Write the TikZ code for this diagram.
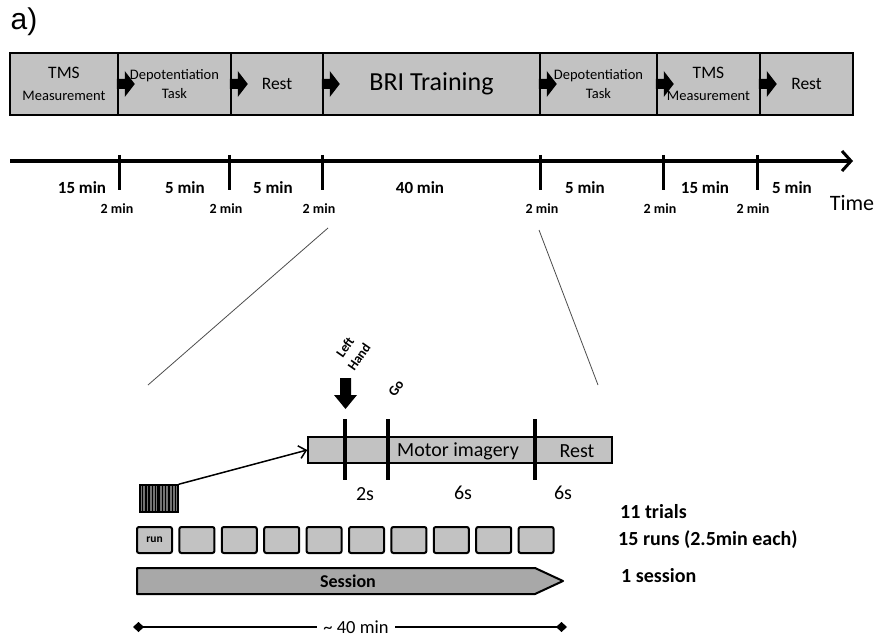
\documentclass[tikz,border=0pt]{standalone}
\usepackage{fontspec}
\setmainfont{Carlito}
\newfontfamily\arialf{Liberation Sans}
\usetikzlibrary{arrows.meta}
\definecolor{boxgray}{HTML}{C2C2C2}
\definecolor{sessgray}{HTML}{A8A8A8}
\newcommand{\fs}[2]{\fontsize{#1}{#2}\selectfont}
\tikzset{
  topbox/.style={draw, line width=2.5pt, fill=boxgray, minimum height=62pt, inner sep=0pt, align=center},
  tmsbox/.style={topbox, font=\fs{14.5}{22}},
  depbox/.style={topbox, font=\fs{14.5}{19}},
  restbox/.style={topbox, font=\fs{17.5}{21}},
  blockarrow/.style={fill=black},
  tick/.style={line width=3pt},
  durlbl/.style={font=\bfseries\fontsize{17}{20}\selectfont, inner sep=0pt},
  gaplbl/.style={font=\bfseries\fontsize{14}{16}\selectfont, inner sep=0pt},
  zoomline/.style={line width=0.8pt, draw=black!70},
  runbox/.style={draw, line width=2pt, fill=boxgray, rounded corners=2pt, minimum width=35pt, minimum height=26pt, inner sep=0pt},
  sidelbl/.style={font=\bfseries\fontsize{20}{24}\selectfont, anchor=west, inner sep=0pt},
  seclbl/.style={font=\fontsize{20}{24}\selectfont, inner sep=0pt},
  marker/.style={line width=4pt},
}
\begin{document}
\begin{tikzpicture}[x=1pt,y=-1pt]
\useasboundingbox (0,0) rectangle (877,639);

% label
\node[font=\arialf\fontsize{30}{34}\selectfont, inner sep=0pt] (lbla) at (24,22) {a)};

% top boxes
\node[tmsbox, minimum width=108pt] (b1) at (64,84) {{\fs{17.5}{22}TMS}\\Measurement};
\node[depbox, minimum width=113pt] (b2) at (174.5,84) {Depotentiation\\Task};
\node[restbox, minimum width=92pt] (b3) at (277,84) {Rest};
\node[topbox, font=\fs{26}{30}, minimum width=217pt] (b4) at (431.5,84) {BRI Training};
\node[depbox, minimum width=117pt] (b5) at (598.5,84) {Depotentiation\\Task};
\node[tmsbox, minimum width=103pt] (b6) at (708.5,84) {{\fs{17.5}{22}TMS}\\Measurement};
\node[restbox, minimum width=93pt] (b7) at (806.5,84) {Rest};
\foreach \n in {b2,b3,b4,b5,b6,b7}{
  \fill[blockarrow] (\n.west) ++(0,-5) -- ++(8,0) -- ++(0,-8) -- ++(10,13) -- ++(-10,13) -- ++(0,-8) -- ++(-8,0) -- cycle;
}

% timeline
\coordinate (t0) at (10,161);
\coordinate (t1) at (853,161);
\draw[line width=3.5pt, -{Straight Barb[length=9pt,width=20pt,line width=3pt]}] (t0) -- (t1);
\foreach \x in {119,229,322,540,663,757}{
  \draw[tick] (\x,155) -- (\x,190);
}
\node[durlbl] (d1) at (82,188) {15 min};
\node[durlbl] (d2) at (185,188) {5 min};
\node[durlbl] (d3) at (273,188) {5 min};
\node[durlbl] (d4) at (420,188) {40 min};
\node[durlbl] (d5) at (585,188) {5 min};
\node[durlbl] (d6) at (705,188) {15 min};
\node[durlbl] (d7) at (792,188) {5 min};
\foreach \x/\n in {117/g1,226/g2,319/g3,542/g4,660/g5,753/g6}{
  \node[gaplbl] (\n) at (\x,209) {2 min};
}
\node[font=\fontsize{22}{26}\selectfont, inner sep=0pt] (time) at (852,203) {Time};

% zoom lines
\coordinate (z1a) at (328,228);
\coordinate (z1b) at (148,385);
\coordinate (z2a) at (539,230);
\coordinate (z2b) at (598,385);
\draw[zoomline] (z1a) -- (z1b);
\draw[zoomline] (z2a) -- (z2b);

% trial bar
\node[draw, line width=1.5pt, fill=boxgray, minimum width=304pt, minimum height=26pt, inner sep=0pt] (bar) at (460,450) {};
\node[seclbl] (mi) at (458,451) {Motor imagery};
\node[seclbl] (rest) at (577,451) {Rest};
\draw[marker] (345,419) -- (345,480);
\draw[marker] (388,419) -- (388,480);
\draw[marker] (535,419) -- (535,480);
\node[seclbl] (s1) at (365,494) {2s};
\node[seclbl] (s2) at (463,493) {6s};
\node[seclbl] (s3) at (563,493) {6s};

% cue arrow
\fill (340,378) -- (351,378) -- (351,395) -- (357,395) -- (345.5,409) -- (334,395) -- (340,395) -- cycle;
\node[font=\bfseries\fontsize{13.5}{17}\selectfont, rotate=55, align=center, inner sep=0pt] (lh) at (352,352) {Left\\Hand};
\node[font=\bfseries\fontsize{14}{16}\selectfont, rotate=55, inner sep=0pt] (go) at (396,388) {Go};

% striped trials
\node[draw, line width=1.5pt, fill=black!55, minimum width=38pt, minimum height=27pt, inner sep=0pt] (stripes) at (159,498.5) {};
\foreach \i in {0,...,10}{
  \draw[line width=1.4pt] (142.5+\i*3.3,486) -- (142.5+\i*3.3,511);
}
\draw[line width=2.8pt] (158.5,486) -- (158.5,511);
\draw[line width=1.5pt, -{Straight Barb[length=7pt,width=13pt,line width=1.5pt]}] (stripes.north east) -- (bar.west);

% runs
\foreach \i in {1,...,10}{
  \node[runbox] (r\i) at ({154.5+(\i-1)*42.4},540) {};
}
\node[font=\bfseries\fontsize{11.5}{13}\selectfont, inner sep=0pt] (runlbl) at (r1) {run};

% session
\fill[sessgray] (137,568) -- (535,568) -- (563,581) -- (535,594) -- (137,594) -- cycle;
\draw[line width=2pt, line join=round] (137,568) -- (535,568) -- (563,581) -- (535,594) -- (137,594) -- cycle;
\node[font=\bfseries\fontsize{18}{22}\selectfont, inner sep=0pt] (sess) at (348,581) {Session};

% side labels
\node[sidelbl] (l1) at (620,512) {11 trials};
\node[sidelbl] (l2) at (618,540) {15 runs (2.5min each)};
\node[sidelbl] (l3) at (621,576) {1 session};

% duration
\coordinate (e0) at (133,627);
\coordinate (e1) at (567,627);
\node[font=\fontsize{18.5}{22}\selectfont, inner sep=0pt, minimum width=78pt] (tot) at (356,627) {\textasciitilde\ 40 min};
\draw[line width=2.5pt, {Diamond[length=11pt,width=10pt]}-] (e0) -- (tot.west);
\draw[line width=2.5pt, -{Diamond[length=11pt,width=10pt]}] (tot.east) -- (e1);
\end{tikzpicture}
\end{document}
